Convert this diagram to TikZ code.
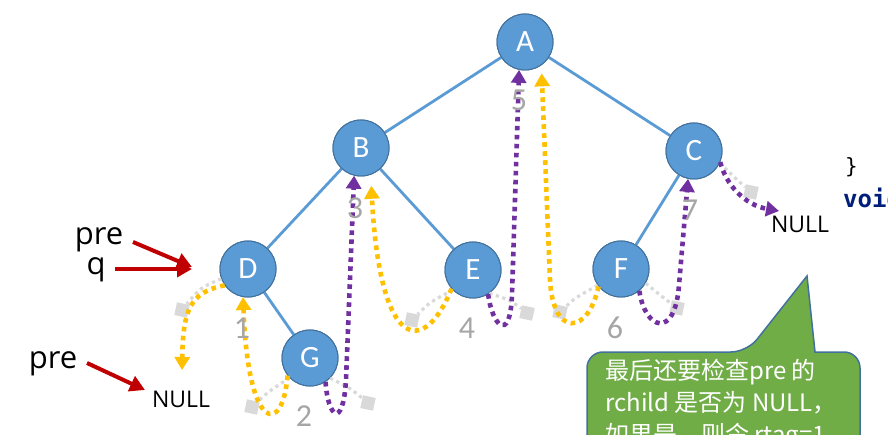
\documentclass[tikz,border=0pt]{standalone}
\usepackage{fontspec}
\usetikzlibrary{arrows.meta,calc}
\newfontfamily\osans{Open Sans}
\newfontfamily\carl{Carlito}
\newfontfamily\cjk{Noto Sans CJK SC}
\newfontfamily\dmono{DejaVu Sans Mono}
\definecolor{nodeblue}{HTML}{5B9BD5}
\definecolor{nodeborder}{HTML}{41719C}
\definecolor{thyellow}{HTML}{FFC000}
\definecolor{thpurple}{HTML}{7030A0}
\definecolor{stubgray}{HTML}{D9D9D9}
\definecolor{numgray}{HTML}{A6A6A6}
\definecolor{redarr}{HTML}{C00000}
\definecolor{calloutgreen}{HTML}{70AD47}
\definecolor{codenavy}{HTML}{001F7A}
\begin{document}
\begin{tikzpicture}[x=1pt,y=-1pt,
  tnode/.style={circle, fill=nodeblue, draw=nodeborder, line width=1pt, minimum size=56pt, inner sep=0pt, text=white, font=\carl\fontsize{31}{31}\selectfont},
  edge/.style={draw=nodeblue, line width=2.8pt},
  thread/.style={line width=4.6pt, dash pattern=on 4.6pt off 4.4pt, -{Triangle[width=15pt,length=13pt]}},
  ythread/.style={thread, color=thyellow},
  pthread/.style={thread, color=thpurple},
  stub/.style={draw=stubgray, line width=3.2pt, dash pattern=on 3.2pt off 3.6pt},
  nullsq/.style={rectangle, fill=stubgray, minimum size=13pt, inner sep=0pt},
  numlabel/.style={text=numgray, font=\carl\fontsize{32}{32}\selectfont, inner sep=0pt},
  bigtext/.style={font=\osans\fontsize{31}{31}\selectfont, inner sep=0pt, anchor=base},
  nulltext/.style={font=\osans\fontsize{23}{23}\selectfont, inner sep=0pt, anchor=base},
  redarrow/.style={draw=redarr, line width=4pt, -{Triangle[width=16pt,length=15pt]}}
]
\useasboundingbox (0,0) rectangle (888,435);
\clip (0,0) rectangle (888,435);
\fill[white] (0,0) rectangle (888,435);

% tree nodes
\node[tnode] (a) at (525,42) {A};
\node[tnode] (b) at (361,148) {B};
\node[tnode] (c) at (694,151) {C};
\node[tnode] (d) at (248,269) {D};
\node[tnode] (e) at (473,270) {E};
\node[tnode] (f) at (621,269) {F};
\node[tnode] (g) at (310,358) {G};

% tree edges
\draw[edge] (a) -- (b);
\draw[edge] (a) -- (c);
\draw[edge] (b) -- (d);
\draw[edge] (b) -- (e);
\draw[edge] (c) -- (f);
\draw[edge] (d) -- (g);
% redraw nodes on top of edges
\node[tnode] (a2) at (a.center) {A};
\node[tnode] (b2) at (b.center) {B};
\node[tnode] (c2) at (c.center) {C};
\node[tnode] (d2) at (d.center) {D};
\node[tnode] (e2) at (e.center) {E};
\node[tnode] (f2) at (f.center) {F};
\node[tnode] (g2) at (g.center) {G};

% null-pointer stubs
\node[nullsq, rotate=-12] (s1) at (182,310) {};
\node[nullsq, rotate=-12] (s2) at (252,407) {};
\node[nullsq, rotate=-12] (s3) at (368,403) {};
\node[nullsq, rotate=-12] (s4) at (412,320) {};
\node[nullsq, rotate=-12] (s5) at (527,313) {};
\node[nullsq, rotate=-12] (s6) at (560,312) {};
\node[nullsq, rotate=-12] (s7) at (677,308) {};
\node[nullsq, rotate=-12] (s8) at (751,192) {};
\draw[stub] (d.200) .. controls (200,288) .. (s1);
\draw[stub] (g.224) .. controls (268,392) .. (s2);
\draw[stub] (g.315) .. controls (350,388) .. (s3);
\draw[stub] (e.225) .. controls (430,302) .. (s4);
\draw[stub] (e.305) .. controls (510,300) .. (s5);
\draw[stub] (f.215) .. controls (575,298) .. (s6);
\draw[stub] (f.330) .. controls (660,295) .. (s7);
\draw[stub] (c.335) .. controls (735,178) .. (s8);

% texts
\node[bigtext] (pre1) at (99,245) {pre};
\node[bigtext] (q) at (96,275) {q};
\node[bigtext] (pre2) at (53,368) {pre};
\node[nulltext] (nullA) at (181,407) {NULL};
\node[nulltext] (nullB) at (800,233) {NULL};

\coordinate (y1end) at (182,370);
\coordinate (p4end) at (779,211);

% yellow threads
\draw[ythread] (d.215) .. controls (190,292) and (183,310) .. (y1end);
\draw[ythread] (g.218) .. controls (283,435) and (248,435) .. (d.260);
\draw[ythread, shorten >=11pt] (e.221) .. controls (425,355) and (380,355) .. (b.290);
\draw[ythread, shorten >=8pt] (f.218) .. controls (588,335) and (553,338) .. (550,280) -- (a.305);

% purple threads
\draw[pthread] (g.303) .. controls (328,418) and (343,430) .. (346,380) -- (b.256);
\draw[pthread] (e.302) .. controls (492,325) and (510,345) .. (512,295) -- (a.258);
\draw[pthread] (f.310) .. controls (645,330) and (675,340) .. (679,285) -- (c.258);
\draw[pthread] (c.337) .. controls (726,185) and (745,205) .. (p4end);

% step numbers
\node[numlabel] (n1) at (242,328) {1};
\node[numlabel] (n2) at (304,416) {2};
\node[numlabel] (n3) at (355,208) {3};
\node[numlabel] (n4) at (467,328) {4};
\node[numlabel] (n5) at (519,100) {5};
\node[numlabel] (n6) at (615,328) {6};
\node[numlabel] (n7) at (690,210) {7};

% red arrows
\coordinate (r1s) at (133,242);
\coordinate (r1e) at (192,267);
\coordinate (r2s) at (115,269);
\coordinate (r2e) at (192,269);
\coordinate (r3s) at (87,363);
\coordinate (r3e) at (145,390);
\draw[redarrow] (r1s) -- (r1e);
\draw[redarrow] (r2s) -- (r2e);
\draw[redarrow] (r3s) -- (r3e);

% code fragment
\node[font=\dmono\fontsize{21}{21}\selectfont, anchor=base west, inner sep=0pt] (brace) at (845,174) {\}};
\node[font=\dmono\bfseries\fontsize{24}{24}\selectfont, text=codenavy, anchor=base west, inner sep=0pt] (voidkw) at (843,208) {void};

% callout
\draw[fill=calloutgreen, draw=nodeborder, line width=1.5pt, rounded corners=16pt]
  (587,480) -- (587,352) -- (747,352) [sharp corners] -- (807,276) -- (815,352) [rounded corners=16pt] -- (860,352) -- (860,480) -- cycle;
\node[font=\cjk\fontsize{24}{32}\selectfont, text=white, align=left, anchor=north west, inner sep=0pt] (calltxt) at (605,359)
  {最后还要检查pre 的\\rchild 是否为 NULL，\\如果是，则令 rtag=1};
\end{tikzpicture}
\end{document}
